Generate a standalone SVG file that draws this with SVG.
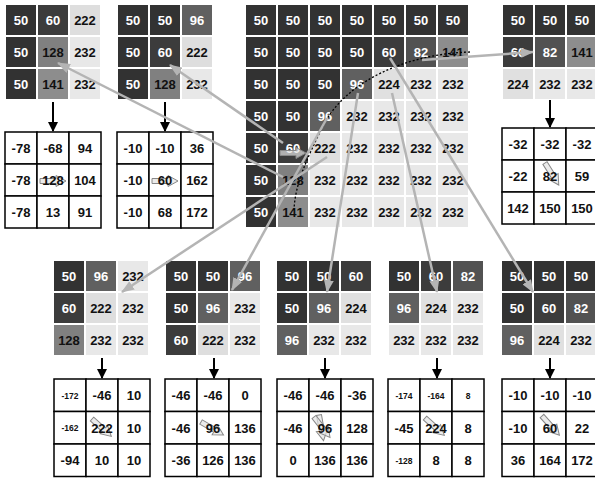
<svg xmlns="http://www.w3.org/2000/svg" xmlns:xlink="http://www.w3.org/1999/xlink" width="595" height="486" viewBox="0 0 595 486">
<style>
text{font-family:"Liberation Sans",Arial,sans-serif;font-weight:bold;font-size:13px;text-anchor:middle}
.w{fill:#fff}.k{fill:#111}.s{font-size:8.5px}
.r rect{fill:#fff;stroke:#000;stroke-width:1.5}
.cn{stroke:#b4b4b4;stroke-width:2.5;fill:none;marker-end:url(#ah)}
.dn{stroke:#000;stroke-width:2;marker-end:url(#bh)}
.ba{fill:#e2e2e2;fill-opacity:0.7;stroke:#888;stroke-width:1}
</style>
<defs>
<marker id="ah" markerUnits="userSpaceOnUse" markerWidth="13" markerHeight="10" refX="12" refY="5" orient="auto"><path d="M0,0 L13,5 L0,10 z" fill="#b4b4b4"/></marker>
<marker id="bh" markerUnits="userSpaceOnUse" markerWidth="10" markerHeight="10" refX="9" refY="5" orient="auto"><path d="M0,0 L10,5 L0,10 z" fill="#000"/></marker>
<path id="bap" d="M0,-2.5 L16,-2.5 L16,-5.5 L26,0 L16,5.5 L16,2.5 L0,2.5 z"/>
</defs>
<rect width="595" height="486" fill="#fff"/>

<g id="grid-n128" transform="translate(6,5)">
<rect x="0" y="0" width="30" height="30" fill="rgb(50,50,50)"/><text x="15" y="20" class="w">50</text>
<rect x="32" y="0" width="30" height="30" fill="rgb(60,60,60)"/><text x="47" y="20" class="w">60</text>
<rect x="64" y="0" width="30" height="30" fill="rgb(222,222,222)"/><text x="79" y="20" class="k">222</text>
<rect x="0" y="32" width="30" height="30" fill="rgb(50,50,50)"/><text x="15" y="52" class="w">50</text>
<rect x="32" y="32" width="30" height="30" fill="rgb(128,128,128)"/><text x="47" y="52" class="k">128</text>
<rect x="64" y="32" width="30" height="30" fill="rgb(232,232,232)"/><text x="79" y="52" class="k">232</text>
<rect x="0" y="64" width="30" height="30" fill="rgb(50,50,50)"/><text x="15" y="84" class="w">50</text>
<rect x="32" y="64" width="30" height="30" fill="rgb(141,141,141)"/><text x="47" y="84" class="k">141</text>
<rect x="64" y="64" width="30" height="30" fill="rgb(232,232,232)"/><text x="79" y="84" class="k">232</text>
</g>

<g id="grid-n60a" transform="translate(118,5)">
<rect x="0" y="0" width="30" height="30" fill="rgb(50,50,50)"/><text x="15" y="20" class="w">50</text>
<rect x="32" y="0" width="30" height="30" fill="rgb(50,50,50)"/><text x="47" y="20" class="w">50</text>
<rect x="64" y="0" width="30" height="30" fill="rgb(96,96,96)"/><text x="79" y="20" class="w">96</text>
<rect x="0" y="32" width="30" height="30" fill="rgb(50,50,50)"/><text x="15" y="52" class="w">50</text>
<rect x="32" y="32" width="30" height="30" fill="rgb(60,60,60)"/><text x="47" y="52" class="w">60</text>
<rect x="64" y="32" width="30" height="30" fill="rgb(222,222,222)"/><text x="79" y="52" class="k">222</text>
<rect x="0" y="64" width="30" height="30" fill="rgb(50,50,50)"/><text x="15" y="84" class="w">50</text>
<rect x="32" y="64" width="30" height="30" fill="rgb(128,128,128)"/><text x="47" y="84" class="k">128</text>
<rect x="64" y="64" width="30" height="30" fill="rgb(232,232,232)"/><text x="79" y="84" class="k">232</text>
</g>

<g id="grid-main" transform="translate(246,5)">
<g id="row0">
<rect x="0" y="0" width="30" height="30" fill="rgb(50,50,50)"/><text x="15" y="20" class="w">50</text>
<rect x="32" y="0" width="30" height="30" fill="rgb(50,50,50)"/><text x="47" y="20" class="w">50</text>
<rect x="64" y="0" width="30" height="30" fill="rgb(50,50,50)"/><text x="79" y="20" class="w">50</text>
<rect x="96" y="0" width="30" height="30" fill="rgb(50,50,50)"/><text x="111" y="20" class="w">50</text>
<rect x="128" y="0" width="30" height="30" fill="rgb(50,50,50)"/><text x="143" y="20" class="w">50</text>
<rect x="160" y="0" width="30" height="30" fill="rgb(50,50,50)"/><text x="175" y="20" class="w">50</text>
<rect x="192" y="0" width="30" height="30" fill="rgb(50,50,50)"/><text x="207" y="20" class="w">50</text>
</g>
<g id="row1">
<rect x="0" y="32" width="30" height="30" fill="rgb(50,50,50)"/><text x="15" y="52" class="w">50</text>
<rect x="32" y="32" width="30" height="30" fill="rgb(50,50,50)"/><text x="47" y="52" class="w">50</text>
<rect x="64" y="32" width="30" height="30" fill="rgb(50,50,50)"/><text x="79" y="52" class="w">50</text>
<rect x="96" y="32" width="30" height="30" fill="rgb(50,50,50)"/><text x="111" y="52" class="w">50</text>
<rect x="128" y="32" width="30" height="30" fill="rgb(60,60,60)"/><text x="143" y="52" class="w">60</text>
<rect x="160" y="32" width="30" height="30" fill="rgb(82,82,82)"/><text x="175" y="52" class="w">82</text>
<rect x="192" y="32" width="30" height="30" fill="rgb(141,141,141)"/><text x="207" y="52" class="k">141</text>
</g>
<g id="row2">
<rect x="0" y="64" width="30" height="30" fill="rgb(50,50,50)"/><text x="15" y="84" class="w">50</text>
<rect x="32" y="64" width="30" height="30" fill="rgb(50,50,50)"/><text x="47" y="84" class="w">50</text>
<rect x="64" y="64" width="30" height="30" fill="rgb(50,50,50)"/><text x="79" y="84" class="w">50</text>
<rect x="96" y="64" width="30" height="30" fill="rgb(96,96,96)"/><text x="111" y="84" class="w">96</text>
<rect x="128" y="64" width="30" height="30" fill="rgb(224,224,224)"/><text x="143" y="84" class="k">224</text>
<rect x="160" y="64" width="30" height="30" fill="rgb(232,232,232)"/><text x="175" y="84" class="k">232</text>
<rect x="192" y="64" width="30" height="30" fill="rgb(232,232,232)"/><text x="207" y="84" class="k">232</text>
</g>
<g id="row3">
<rect x="0" y="96" width="30" height="30" fill="rgb(50,50,50)"/><text x="15" y="116" class="w">50</text>
<rect x="32" y="96" width="30" height="30" fill="rgb(50,50,50)"/><text x="47" y="116" class="w">50</text>
<rect x="64" y="96" width="30" height="30" fill="rgb(96,96,96)"/><text x="79" y="116" class="w">96</text>
<rect x="96" y="96" width="30" height="30" fill="rgb(232,232,232)"/><text x="111" y="116" class="k">232</text>
<rect x="128" y="96" width="30" height="30" fill="rgb(232,232,232)"/><text x="143" y="116" class="k">232</text>
<rect x="160" y="96" width="30" height="30" fill="rgb(232,232,232)"/><text x="175" y="116" class="k">232</text>
<rect x="192" y="96" width="30" height="30" fill="rgb(232,232,232)"/><text x="207" y="116" class="k">232</text>
</g>
<g id="row4">
<rect x="0" y="128" width="30" height="30" fill="rgb(50,50,50)"/><text x="15" y="148" class="w">50</text>
<rect x="32" y="128" width="30" height="30" fill="rgb(60,60,60)"/>
<text x="47" y="148" class="w">60</text>
<use href="#bap" class="ba" transform="translate(34,148)"/>
<rect x="64" y="128" width="30" height="30" fill="rgb(222,222,222)"/><text x="79" y="148" class="k">222</text>
<rect x="96" y="128" width="30" height="30" fill="rgb(232,232,232)"/><text x="111" y="148" class="k">232</text>
<rect x="128" y="128" width="30" height="30" fill="rgb(232,232,232)"/><text x="143" y="148" class="k">232</text>
<rect x="160" y="128" width="30" height="30" fill="rgb(232,232,232)"/><text x="175" y="148" class="k">232</text>
<rect x="192" y="128" width="30" height="30" fill="rgb(232,232,232)"/><text x="207" y="148" class="k">232</text>
</g>
<g id="row5">
<rect x="0" y="160" width="30" height="30" fill="rgb(50,50,50)"/><text x="15" y="180" class="w">50</text>
<rect x="32" y="160" width="30" height="30" fill="rgb(128,128,128)"/><text x="47" y="180" class="k">128</text>
<rect x="64" y="160" width="30" height="30" fill="rgb(232,232,232)"/><text x="79" y="180" class="k">232</text>
<rect x="96" y="160" width="30" height="30" fill="rgb(232,232,232)"/><text x="111" y="180" class="k">232</text>
<rect x="128" y="160" width="30" height="30" fill="rgb(232,232,232)"/><text x="143" y="180" class="k">232</text>
<rect x="160" y="160" width="30" height="30" fill="rgb(232,232,232)"/><text x="175" y="180" class="k">232</text>
<rect x="192" y="160" width="30" height="30" fill="rgb(232,232,232)"/><text x="207" y="180" class="k">232</text>
</g>
<g id="row6">
<rect x="0" y="192" width="30" height="30" fill="rgb(50,50,50)"/><text x="15" y="212" class="w">50</text>
<rect x="32" y="192" width="30" height="30" fill="rgb(141,141,141)"/><text x="47" y="212" class="k">141</text>
<rect x="64" y="192" width="30" height="30" fill="rgb(232,232,232)"/><text x="79" y="212" class="k">232</text>
<rect x="96" y="192" width="30" height="30" fill="rgb(232,232,232)"/><text x="111" y="212" class="k">232</text>
<rect x="128" y="192" width="30" height="30" fill="rgb(232,232,232)"/><text x="143" y="212" class="k">232</text>
<rect x="160" y="192" width="30" height="30" fill="rgb(232,232,232)"/><text x="175" y="212" class="k">232</text>
<rect x="192" y="192" width="30" height="30" fill="rgb(232,232,232)"/><text x="207" y="212" class="k">232</text>
</g>
</g>

<g id="grid-n82" transform="translate(503,5)">
<rect x="0" y="0" width="30" height="30" fill="rgb(50,50,50)"/><text x="15" y="20" class="w">50</text>
<rect x="32" y="0" width="30" height="30" fill="rgb(50,50,50)"/><text x="47" y="20" class="w">50</text>
<rect x="64" y="0" width="30" height="30" fill="rgb(50,50,50)"/><text x="79" y="20" class="w">50</text>
<rect x="0" y="32" width="30" height="30" fill="rgb(60,60,60)"/><text x="15" y="52" class="w">60</text>
<rect x="32" y="32" width="30" height="30" fill="rgb(82,82,82)"/><text x="47" y="52" class="w">82</text>
<rect x="64" y="32" width="30" height="30" fill="rgb(141,141,141)"/><text x="79" y="52" class="k">141</text>
<rect x="0" y="64" width="30" height="30" fill="rgb(224,224,224)"/><text x="15" y="84" class="k">224</text>
<rect x="32" y="64" width="30" height="30" fill="rgb(232,232,232)"/><text x="47" y="84" class="k">232</text>
<rect x="64" y="64" width="30" height="30" fill="rgb(232,232,232)"/><text x="79" y="84" class="k">232</text>
</g>

<g id="grid-n222" transform="translate(54,261)">
<rect x="0" y="0" width="30" height="30" fill="rgb(50,50,50)"/><text x="15" y="20" class="w">50</text>
<rect x="32" y="0" width="30" height="30" fill="rgb(96,96,96)"/><text x="47" y="20" class="w">96</text>
<rect x="64" y="0" width="30" height="30" fill="rgb(232,232,232)"/><text x="79" y="20" class="k">232</text>
<rect x="0" y="32" width="30" height="30" fill="rgb(60,60,60)"/><text x="15" y="52" class="w">60</text>
<rect x="32" y="32" width="30" height="30" fill="rgb(222,222,222)"/><text x="47" y="52" class="k">222</text>
<rect x="64" y="32" width="30" height="30" fill="rgb(232,232,232)"/><text x="79" y="52" class="k">232</text>
<rect x="0" y="64" width="30" height="30" fill="rgb(128,128,128)"/><text x="15" y="84" class="k">128</text>
<rect x="32" y="64" width="30" height="30" fill="rgb(232,232,232)"/><text x="47" y="84" class="k">232</text>
<rect x="64" y="64" width="30" height="30" fill="rgb(232,232,232)"/><text x="79" y="84" class="k">232</text>
</g>

<g id="grid-n96a" transform="translate(166,261)">
<rect x="0" y="0" width="30" height="30" fill="rgb(50,50,50)"/><text x="15" y="20" class="w">50</text>
<rect x="32" y="0" width="30" height="30" fill="rgb(50,50,50)"/><text x="47" y="20" class="w">50</text>
<rect x="64" y="0" width="30" height="30" fill="rgb(96,96,96)"/><text x="79" y="20" class="w">96</text>
<rect x="0" y="32" width="30" height="30" fill="rgb(50,50,50)"/><text x="15" y="52" class="w">50</text>
<rect x="32" y="32" width="30" height="30" fill="rgb(96,96,96)"/><text x="47" y="52" class="w">96</text>
<rect x="64" y="32" width="30" height="30" fill="rgb(232,232,232)"/><text x="79" y="52" class="k">232</text>
<rect x="0" y="64" width="30" height="30" fill="rgb(60,60,60)"/><text x="15" y="84" class="w">60</text>
<rect x="32" y="64" width="30" height="30" fill="rgb(222,222,222)"/><text x="47" y="84" class="k">222</text>
<rect x="64" y="64" width="30" height="30" fill="rgb(232,232,232)"/><text x="79" y="84" class="k">232</text>
</g>

<g id="grid-n96b" transform="translate(277,261)">
<rect x="0" y="0" width="30" height="30" fill="rgb(50,50,50)"/><text x="15" y="20" class="w">50</text>
<rect x="32" y="0" width="30" height="30" fill="rgb(50,50,50)"/><text x="47" y="20" class="w">50</text>
<rect x="64" y="0" width="30" height="30" fill="rgb(60,60,60)"/><text x="79" y="20" class="w">60</text>
<rect x="0" y="32" width="30" height="30" fill="rgb(50,50,50)"/><text x="15" y="52" class="w">50</text>
<rect x="32" y="32" width="30" height="30" fill="rgb(96,96,96)"/><text x="47" y="52" class="w">96</text>
<rect x="64" y="32" width="30" height="30" fill="rgb(224,224,224)"/><text x="79" y="52" class="k">224</text>
<rect x="0" y="64" width="30" height="30" fill="rgb(96,96,96)"/><text x="15" y="84" class="w">96</text>
<rect x="32" y="64" width="30" height="30" fill="rgb(232,232,232)"/><text x="47" y="84" class="k">232</text>
<rect x="64" y="64" width="30" height="30" fill="rgb(232,232,232)"/><text x="79" y="84" class="k">232</text>
</g>

<g id="grid-n224" transform="translate(389,261)">
<rect x="0" y="0" width="30" height="30" fill="rgb(50,50,50)"/><text x="15" y="20" class="w">50</text>
<rect x="32" y="0" width="30" height="30" fill="rgb(60,60,60)"/><text x="47" y="20" class="w">60</text>
<rect x="64" y="0" width="30" height="30" fill="rgb(82,82,82)"/><text x="79" y="20" class="w">82</text>
<rect x="0" y="32" width="30" height="30" fill="rgb(96,96,96)"/><text x="15" y="52" class="w">96</text>
<rect x="32" y="32" width="30" height="30" fill="rgb(224,224,224)"/><text x="47" y="52" class="k">224</text>
<rect x="64" y="32" width="30" height="30" fill="rgb(232,232,232)"/><text x="79" y="52" class="k">232</text>
<rect x="0" y="64" width="30" height="30" fill="rgb(232,232,232)"/><text x="15" y="84" class="k">232</text>
<rect x="32" y="64" width="30" height="30" fill="rgb(232,232,232)"/><text x="47" y="84" class="k">232</text>
<rect x="64" y="64" width="30" height="30" fill="rgb(232,232,232)"/><text x="79" y="84" class="k">232</text>
</g>

<g id="grid-n60b" transform="translate(502,261)">
<rect x="0" y="0" width="30" height="30" fill="rgb(50,50,50)"/><text x="15" y="20" class="w">50</text>
<rect x="32" y="0" width="30" height="30" fill="rgb(50,50,50)"/><text x="47" y="20" class="w">50</text>
<rect x="64" y="0" width="30" height="30" fill="rgb(50,50,50)"/><text x="79" y="20" class="w">50</text>
<rect x="0" y="32" width="30" height="30" fill="rgb(50,50,50)"/><text x="15" y="52" class="w">50</text>
<rect x="32" y="32" width="30" height="30" fill="rgb(60,60,60)"/><text x="47" y="52" class="w">60</text>
<rect x="64" y="32" width="30" height="30" fill="rgb(82,82,82)"/><text x="79" y="52" class="w">82</text>
<rect x="0" y="64" width="30" height="30" fill="rgb(96,96,96)"/><text x="15" y="84" class="w">96</text>
<rect x="32" y="64" width="30" height="30" fill="rgb(224,224,224)"/><text x="47" y="84" class="k">224</text>
<rect x="64" y="64" width="30" height="30" fill="rgb(232,232,232)"/><text x="79" y="84" class="k">232</text>
</g>

<g id="res-n128" class="r" transform="translate(5,132)">
<rect x="0" y="0" width="32" height="32"/><rect x="32" y="0" width="32" height="32"/><rect x="64" y="0" width="32" height="32"/>
<rect x="0" y="32" width="32" height="32"/><rect x="32" y="32" width="32" height="32"/><rect x="64" y="32" width="32" height="32"/>
<rect x="0" y="64" width="32" height="32"/><rect x="32" y="64" width="32" height="32"/><rect x="64" y="64" width="32" height="32"/>
<use href="#bap" class="ba" transform="translate(35,49)"/>
<text x="16" y="21" class="k">-78</text><text x="48" y="21" class="k">-68</text><text x="80" y="21" class="k">94</text>
<text x="16" y="53" class="k">-78</text><text x="48" y="53" class="k">128</text><text x="80" y="53" class="k">104</text>
<text x="16" y="85" class="k">-78</text><text x="48" y="85" class="k">13</text><text x="80" y="85" class="k">91</text>
</g>

<g id="res-n60a" class="r" transform="translate(117,132)">
<rect x="0" y="0" width="32" height="32"/><rect x="32" y="0" width="32" height="32"/><rect x="64" y="0" width="32" height="32"/>
<rect x="0" y="32" width="32" height="32"/><rect x="32" y="32" width="32" height="32"/><rect x="64" y="32" width="32" height="32"/>
<rect x="0" y="64" width="32" height="32"/><rect x="32" y="64" width="32" height="32"/><rect x="64" y="64" width="32" height="32"/>
<use href="#bap" class="ba" transform="translate(35,49)"/>
<text x="16" y="21" class="k">-10</text><text x="48" y="21" class="k">-10</text><text x="80" y="21" class="k">36</text>
<text x="16" y="53" class="k">-10</text><text x="48" y="53" class="k">60</text><text x="80" y="53" class="k">162</text>
<text x="16" y="85" class="k">-10</text><text x="48" y="85" class="k">68</text><text x="80" y="85" class="k">172</text>
</g>

<g id="res-n82" class="r" transform="translate(502,128)">
<rect x="0" y="0" width="32" height="32"/><rect x="32" y="0" width="32" height="32"/><rect x="64" y="0" width="32" height="32"/>
<rect x="0" y="32" width="32" height="32"/><rect x="32" y="32" width="32" height="32"/><rect x="64" y="32" width="32" height="32"/>
<rect x="0" y="64" width="32" height="32"/><rect x="32" y="64" width="32" height="32"/><rect x="64" y="64" width="32" height="32"/>
<use href="#bap" class="ba" transform="translate(43,35) rotate(58)"/>
<text x="16" y="21" class="k">-32</text><text x="48" y="21" class="k">-32</text><text x="80" y="21" class="k">-32</text>
<text x="16" y="53" class="k">-22</text><text x="48" y="53" class="k">82</text><text x="80" y="53" class="k">59</text>
<text x="16" y="85" class="k">142</text><text x="48" y="85" class="k">150</text><text x="80" y="85" class="k">150</text>
</g>

<g id="res-n222" class="r" transform="translate(54,379)">
<rect x="0" y="0" width="32" height="32.5"/><rect x="32" y="0" width="32" height="32.5"/><rect x="64" y="0" width="32" height="32.5"/>
<rect x="0" y="32.5" width="32" height="32.5"/><rect x="32" y="32.5" width="32" height="32.5"/><rect x="64" y="32.5" width="32" height="32.5"/>
<rect x="0" y="65" width="32" height="32.5"/><rect x="32" y="65" width="32" height="32.5"/><rect x="64" y="65" width="32" height="32.5"/>
<use href="#bap" class="ba" transform="translate(38,40) rotate(42)"/>
<text x="16" y="20" class="k s">-172</text><text x="48" y="21" class="k">-46</text><text x="80" y="21" class="k">10</text>
<text x="16" y="52" class="k s">-162</text><text x="48" y="53.5" class="k">222</text><text x="80" y="53.5" class="k">10</text>
<text x="16" y="86" class="k">-94</text><text x="48" y="86" class="k">10</text><text x="80" y="86" class="k">10</text>
</g>

<g id="res-n96a" class="r" transform="translate(165,379)">
<rect x="0" y="0" width="32" height="32.5"/><rect x="32" y="0" width="32" height="32.5"/><rect x="64" y="0" width="32" height="32.5"/>
<rect x="0" y="32.5" width="32" height="32.5"/><rect x="32" y="32.5" width="32" height="32.5"/><rect x="64" y="32.5" width="32" height="32.5"/>
<rect x="0" y="65" width="32" height="32.5"/><rect x="32" y="65" width="32" height="32.5"/><rect x="64" y="65" width="32" height="32.5"/>
<use href="#bap" class="ba" transform="translate(36,43) rotate(30)"/>
<text x="16" y="21" class="k">-46</text><text x="48" y="21" class="k">-46</text><text x="80" y="21" class="k">0</text>
<text x="16" y="53.5" class="k">-46</text><text x="48" y="53.5" class="k">96</text><text x="80" y="53.5" class="k">136</text>
<text x="16" y="86" class="k">-36</text><text x="48" y="86" class="k">126</text><text x="80" y="86" class="k">136</text>
</g>

<g id="res-n96b" class="r" transform="translate(277,379)">
<rect x="0" y="0" width="32" height="32.5"/><rect x="32" y="0" width="32" height="32.5"/><rect x="64" y="0" width="32" height="32.5"/>
<rect x="0" y="32.5" width="32" height="32.5"/><rect x="32" y="32.5" width="32" height="32.5"/><rect x="64" y="32.5" width="32" height="32.5"/>
<rect x="0" y="65" width="32" height="32.5"/><rect x="32" y="65" width="32" height="32.5"/><rect x="64" y="65" width="32" height="32.5"/>
<use href="#bap" class="ba" transform="translate(42,36) rotate(80)"/>
<use href="#bap" class="ba" transform="translate(37,38) rotate(52)"/>
<text x="16" y="21" class="k">-46</text><text x="48" y="21" class="k">-46</text><text x="80" y="21" class="k">-36</text>
<text x="16" y="53.5" class="k">-46</text><text x="48" y="53.5" class="k">96</text><text x="80" y="53.5" class="k">128</text>
<text x="16" y="86" class="k">0</text><text x="48" y="86" class="k">136</text><text x="80" y="86" class="k">136</text>
</g>

<g id="res-n224" class="r" transform="translate(388,379)">
<rect x="0" y="0" width="32" height="32.5"/><rect x="32" y="0" width="32" height="32.5"/><rect x="64" y="0" width="32" height="32.5"/>
<rect x="0" y="32.5" width="32" height="32.5"/><rect x="32" y="32.5" width="32" height="32.5"/><rect x="64" y="32.5" width="32" height="32.5"/>
<rect x="0" y="65" width="32" height="32.5"/><rect x="32" y="65" width="32" height="32.5"/><rect x="64" y="65" width="32" height="32.5"/>
<use href="#bap" class="ba" transform="translate(37,39) rotate(42)"/>
<text x="16" y="20" class="k s">-174</text><text x="48" y="20" class="k s">-164</text><text x="80" y="20" class="k s">8</text>
<text x="16" y="53.5" class="k">-45</text><text x="48" y="53.5" class="k">224</text><text x="80" y="53.5" class="k">8</text>
<text x="16" y="85" class="k s">-128</text><text x="48" y="86" class="k">8</text><text x="80" y="86" class="k">8</text>
</g>

<g id="res-n60b" class="r" transform="translate(502,379)">
<rect x="0" y="0" width="32" height="32.5"/><rect x="32" y="0" width="32" height="32.5"/><rect x="64" y="0" width="32" height="32.5"/>
<rect x="0" y="32.5" width="32" height="32.5"/><rect x="32" y="32.5" width="32" height="32.5"/><rect x="64" y="32.5" width="32" height="32.5"/>
<rect x="0" y="65" width="32" height="32.5"/><rect x="32" y="65" width="32" height="32.5"/><rect x="64" y="65" width="32" height="32.5"/>
<use href="#bap" class="ba" transform="translate(40,37) rotate(48)"/>
<text x="16" y="21" class="k">-10</text><text x="48" y="21" class="k">-10</text><text x="80" y="21" class="k">-10</text>
<text x="16" y="53.5" class="k">-10</text><text x="48" y="53.5" class="k">60</text><text x="80" y="53.5" class="k">22</text>
<text x="16" y="86" class="k">36</text><text x="48" y="86" class="k">164</text><text x="80" y="86" class="k">172</text>
</g>

<g id="connectors">
<line class="dn" x1="53" y1="102" x2="53" y2="131"/>
<line class="dn" x1="165" y1="102" x2="165" y2="131"/>
<line class="dn" x1="550" y1="100" x2="550" y2="127"/>
<line class="dn" x1="102" y1="358" x2="102" y2="378"/>
<line class="dn" x1="214" y1="358" x2="214" y2="378"/>
<line class="dn" x1="325" y1="358" x2="325" y2="378"/>
<line class="dn" x1="437" y1="358" x2="437" y2="378"/>
<line class="dn" x1="550" y1="358" x2="550" y2="378"/>
<path d="M470,52 C405,54 345,82 323,126 C306,160 295,185 294,210" fill="none" stroke="#000" stroke-width="1.3" stroke-dasharray="2,2"/>
<line class="cn" x1="283" y1="177" x2="58" y2="63"/>
<line class="cn" x1="283" y1="143" x2="170" y2="65"/>
<line class="cn" x1="422" y1="60" x2="533" y2="52"/>
<line class="cn" x1="327" y1="157" x2="122" y2="292"/>
<line class="cn" x1="327" y1="118" x2="232" y2="290"/>
<line class="cn" x1="358" y1="93" x2="327" y2="292"/>
<line class="cn" x1="392" y1="93" x2="437" y2="292"/>
<line class="cn" x1="390" y1="58" x2="533" y2="292"/>
</g>
</svg>
